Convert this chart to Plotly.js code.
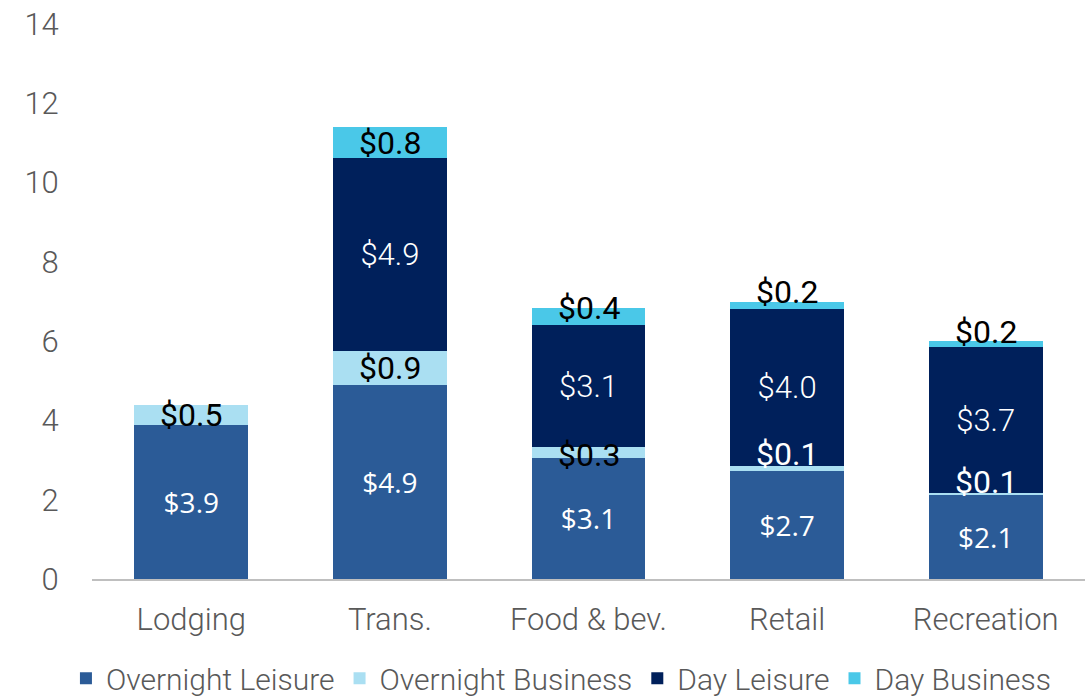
<!DOCTYPE html>
<html>
<head>
<meta charset="utf-8">
<script src="https://cdn.plot.ly/plotly-3.0.1.min.js"></script>
<style>html,body{margin:0;padding:0;background:#fff;}#chart{width:1085px;height:700px;}</style>
</head>
<body>
<div id="chart"></div>
<script>
// ---- data ----
var categories = ["Lodging", "Trans.", "Food & bev.", "Retail", "Recreation"];
var overnightLeisure  = [3.88, 4.89, 3.06, 2.72, 2.12];
var overnightBusiness = [0.51, 0.86, 0.26, 0.13, 0.06];
var dayLeisure        = [null, 4.86, 3.08, 3.96, 3.66];
var dayBusiness       = [null, 0.80, 0.43, 0.18, 0.16];
var seriesNames = ["Overnight Leisure", "Overnight Business", "Day Leisure", "Day Business"];
var yTicks = [0, 2, 4, 6, 8, 10, 12, 14];

// ---- styles ----
var colors = ["#2B5B97", "#AADFF2", "#00205B", "#4AC8E8"];
var gray = "#595959";
// label nudges (px, upward) and colours for small-segment labels
var obNudge = [0, 0, -2, 15, 12];
var obColor = ["#000", "#000", "#000", "#fff", "#fff"];
var dbNudge = [0, 0, 9, 13, 12];

function fmt(v){ return "$" + v.toFixed(1); }

var traces = [
  {type:"bar", name:seriesNames[0], x:categories, y:overnightLeisure,
   marker:{color:colors[0]}, text:overnightLeisure.map(fmt), textposition:"inside",
   insidetextanchor:"middle", textangle:0, constraintext:"none",
   textfont:{family:"Open Sans", weight:400, size:28, color:"#fff"}, hoverinfo:"skip"},
  {type:"bar", name:seriesNames[1], x:categories, y:overnightBusiness,
   marker:{color:colors[1]}, textposition:"none", hoverinfo:"skip"},
  {type:"bar", name:seriesNames[2], x:categories, y:dayLeisure,
   marker:{color:colors[2]}, text:dayLeisure.map(function(v){return v==null?"":fmt(v);}),
   textposition:"inside", insidetextanchor:"middle", textangle:0, constraintext:"none",
   textfont:{family:"Roboto", weight:300, size:31, color:"#fff"}, hoverinfo:"skip"},
  {type:"bar", name:seriesNames[3], x:categories, y:dayBusiness,
   marker:{color:colors[3]}, textposition:"none", hoverinfo:"skip"}
];

var annotations = [];
categories.forEach(function(c, i){
  var base = overnightLeisure[i];
  annotations.push({x:c, y:base + overnightBusiness[i]/2, xref:"x", yref:"y",
    text:fmt(overnightBusiness[i]), showarrow:false, yshift:obNudge[i],
    font:{family:"Roboto", weight:400, size:32, color:obColor[i]}});
  if (dayBusiness[i] != null) {
    var b2 = base + overnightBusiness[i] + dayLeisure[i];
    annotations.push({x:c, y:b2 + dayBusiness[i]/2, xref:"x", yref:"y",
      text:fmt(dayBusiness[i]), showarrow:false, yshift:dbNudge[i],
      font:{family:"Roboto", weight:400, size:32, color:"#000"}});
  }
});

var layout = {
  width:1085, height:700,
  margin:{l:92, r:0, t:24, b:121, pad:0},
  paper_bgcolor:"#fff", plot_bgcolor:"#fff",
  barmode:"stack", bargap:0.427,
  font:{family:"Roboto", weight:300, color:gray, size:31},
  xaxis:{showgrid:false, zeroline:false, showline:true, linecolor:"#BFBFBF", linewidth:2,
    ticks:"outside", ticklen:12, tickcolor:"rgba(0,0,0,0)",
    tickfont:{family:"Roboto", weight:300, size:31, color:gray}, fixedrange:true},
  yaxis:{range:[0,14], tickvals:yTicks, showgrid:false, zeroline:false, showline:false,
    ticks:"outside", ticklen:26, tickcolor:"rgba(0,0,0,0)",
    tickfont:{family:"Roboto", weight:300, size:31, color:gray}, fixedrange:true},
  showlegend:true,
  legend:{orientation:"h", x:0.517, xanchor:"center", xref:"container",
    y:0.031, yanchor:"middle", yref:"container", itemwidth:30, borderwidth:0,
    font:{family:"Roboto", weight:300, size:30, color:gray}, traceorder:"normal",
    itemclick:false, itemdoubleclick:false, bgcolor:"rgba(0,0,0,0)"},
  annotations:annotations
};

Plotly.newPlot("chart", traces, layout, {displayModeBar:false, staticPlot:true});
</script>
</body>
</html>
